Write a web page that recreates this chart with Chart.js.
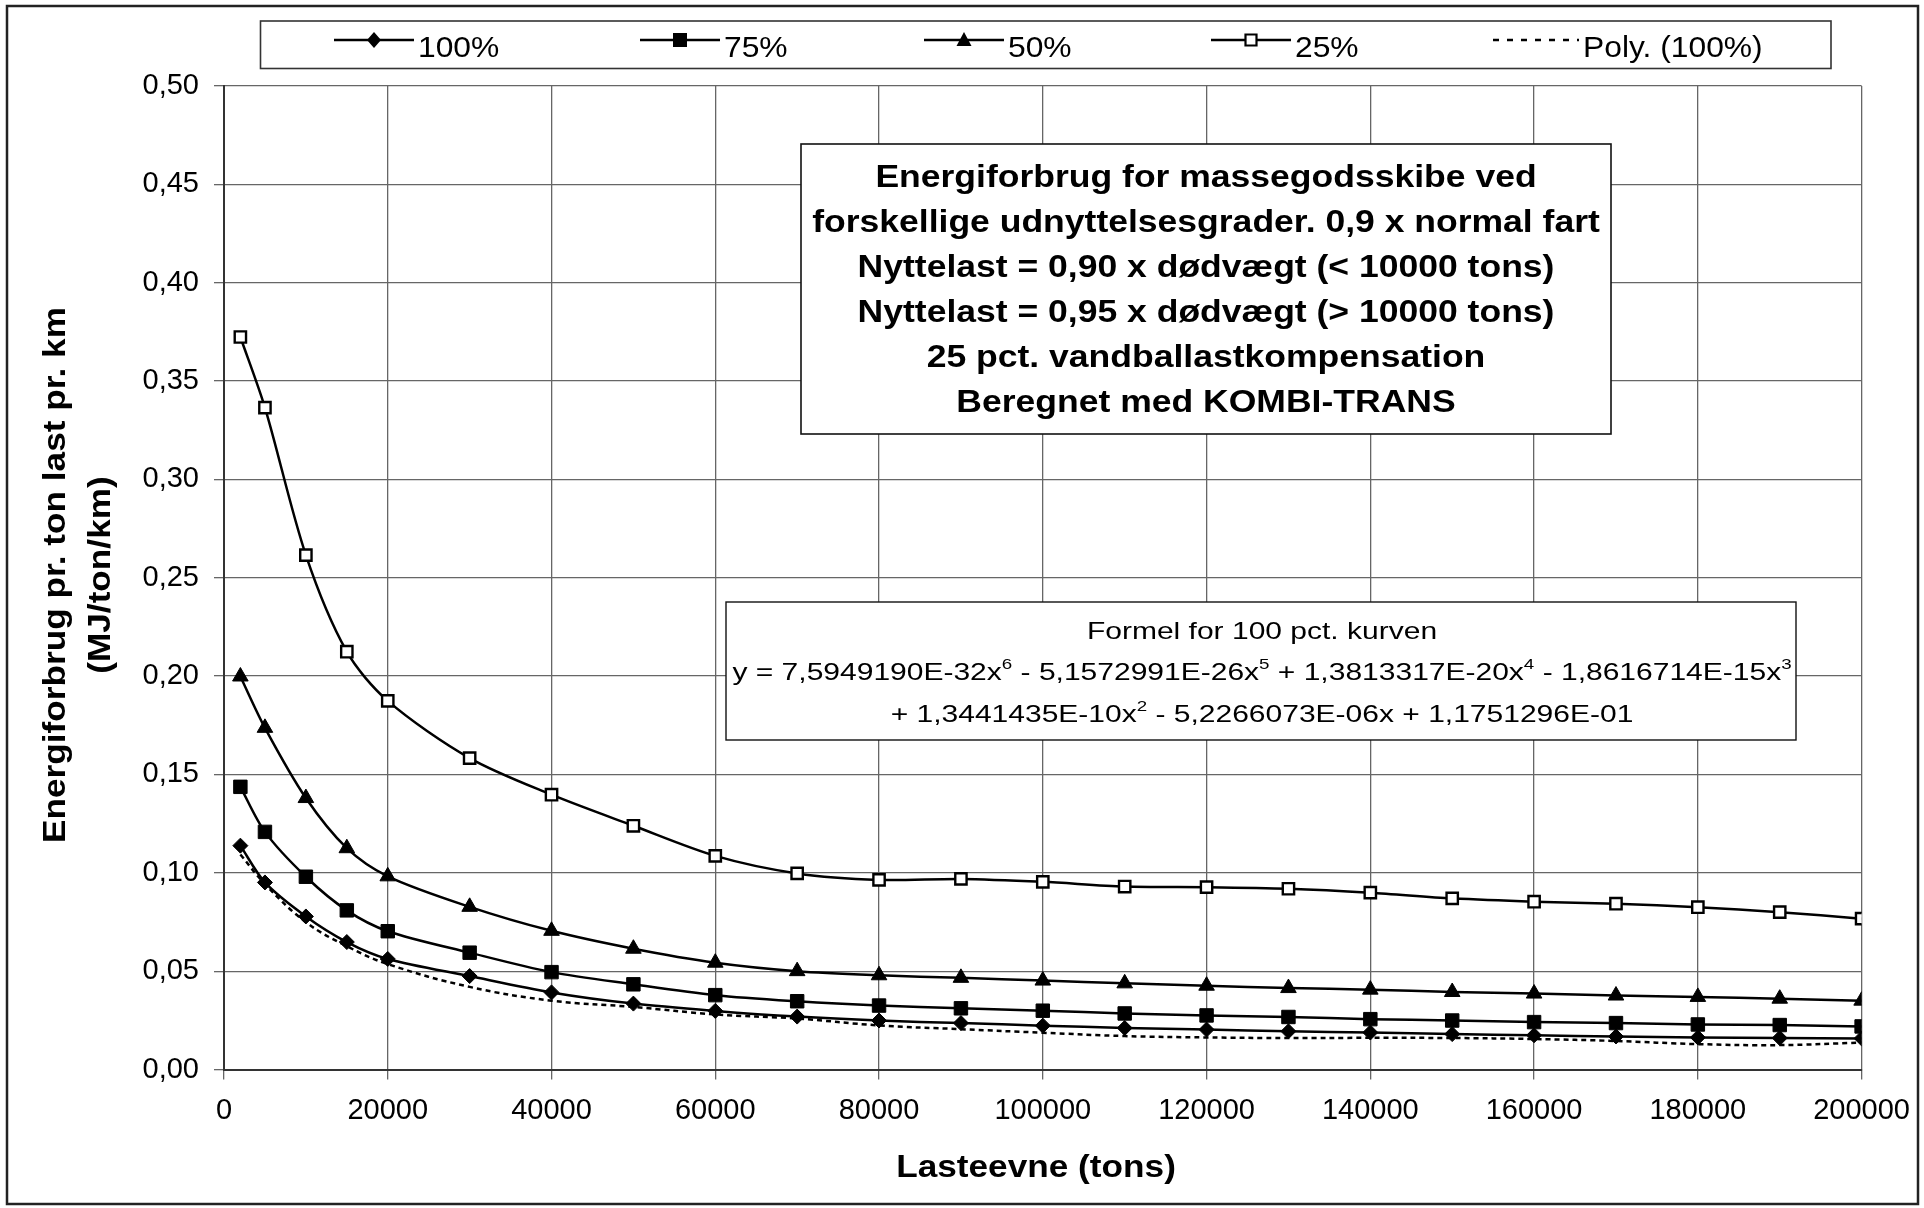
<!DOCTYPE html>
<html>
<head>
<meta charset="utf-8">
<title>Energiforbrug for massegodsskibe</title>
<script src="https://cdn.jsdelivr.net/npm/chart.js@4.4.1/dist/chart.umd.min.js"></script>
<style>
  html, body { margin: 0; padding: 0; background: #fff; overflow: hidden; }
  #chart { display: block; }
</style>
</head>
<body>
<canvas id="chart" width="1924" height="1208"></canvas>
<script>
// Lasteevne (tons)
const xValues = [2000, 5000, 10000, 15000, 20000, 30000, 40000, 50000, 60000, 70000, 80000, 90000,
                 100000, 110000, 120000, 130000, 140000, 150000, 160000, 170000, 180000, 190000, 200000];

// MJ/ton/km for each udnyttelsesgrad
const eff100 = [0.1138, 0.0951, 0.0778, 0.0648, 0.0562, 0.0475, 0.0392, 0.0335, 0.0298, 0.0269, 0.0249, 0.0236,
                0.0223, 0.0211, 0.0203, 0.0194, 0.0188, 0.0180, 0.0174, 0.0168, 0.0163, 0.0160, 0.0158];
const eff75  = [0.1437, 0.1208, 0.0980, 0.0809, 0.0703, 0.0594, 0.0495, 0.0433, 0.0378, 0.0347, 0.0325, 0.0311,
                0.0299, 0.0285, 0.0275, 0.0267, 0.0256, 0.0249, 0.0241, 0.0236, 0.0229, 0.0226, 0.0219];
const eff50  = [0.1998, 0.1737, 0.1380, 0.1125, 0.0982, 0.0827, 0.0705, 0.0614, 0.0543, 0.0500, 0.0479, 0.0466,
                0.0452, 0.0438, 0.0426, 0.0414, 0.0406, 0.0394, 0.0386, 0.0376, 0.0369, 0.0360, 0.0350];
const eff25  = [0.3724, 0.3365, 0.2615, 0.2124, 0.1874, 0.1583, 0.1397, 0.1239, 0.1086, 0.0997, 0.0964, 0.0969,
                0.0954, 0.0930, 0.0927, 0.0919, 0.0899, 0.0870, 0.0853, 0.0843, 0.0825, 0.0800, 0.0767];
// dotted trendline
const poly100 = [0.1093, 0.0943, 0.0749, 0.0627, 0.0536, 0.0420, 0.0350, 0.0318, 0.0280, 0.0259, 0.0224, 0.0205,
                 0.0187, 0.0170, 0.0163, 0.0160, 0.0161, 0.0160, 0.0155, 0.0145, 0.0129, 0.0124, 0.0137];

const seriesLabels = ['100%', '75%', '50%', '25%', 'Poly. (100%)'];
const xTickStep = 20000;
const yTickStep = 0.05;

const FONT = '"Liberation Sans", Arial, sans-serif';

const titleLines = [
    'Energiforbrug for massegodsskibe ved',
    'forskellige udnyttelsesgrader. 0,9 x normal fart',
    'Nyttelast = 0,90 x dødvægt (< 10000 tons)',
    'Nyttelast = 0,95 x dødvægt (> 10000 tons)',
    '25 pct. vandballastkompensation',
    'Beregnet med KOMBI-TRANS'
];

// [text, superscript?]
const formulaLines = [
    [['Formel for 100 pct. kurven', false]],
    [['y = 7,5949190E-32x', false], ['6', true], [' - 5,1572991E-26x', false], ['5', true],
     [' + 1,3813317E-20x', false], ['4', true], [' - 1,8616714E-15x', false], ['3', true]],
    [['+ 1,3441435E-10x', false], ['2', true], [' - 5,2266073E-06x + 1,1751296E-01', false]]
];

function toPoints(values) {
    return xValues.map((x, i) => ({ x: x, y: values[i] }));
}

/**
 * Draw text squeezed or widened horizontally
 */
function drawText(ctx, text, x, y, font, sx, align) {
    ctx.save();
    ctx.font = font;
    ctx.textAlign = align || 'center';
    ctx.textBaseline = 'alphabetic';
    ctx.translate(x, y);
    ctx.scale(sx, 1);
    ctx.fillText(text, 0, 0);
    ctx.restore();
}

function drawRich(ctx, parts, cx, y, size, sx) {
    const base = size + 'px ' + FONT;
    const sup = Math.round(size * 0.62) + 'px ' + FONT;
    ctx.save();
    ctx.textAlign = 'left';
    ctx.textBaseline = 'alphabetic';
    let w = 0;
    parts.forEach(p => { ctx.font = p[1] ? sup : base; w += ctx.measureText(p[0]).width; });
    ctx.translate(cx - w * sx / 2, y);
    ctx.scale(sx, 1);
    let x = 0;
    parts.forEach(p => {
        ctx.font = p[1] ? sup : base;
        ctx.fillText(p[0], x, p[1] ? -size * 0.45 : 0);
        x += ctx.measureText(p[0]).width;
    });
    ctx.restore();
}

function drawMarker(ctx, style, x, y) {
    ctx.save();
    ctx.fillStyle = '#000';
    ctx.strokeStyle = '#000';
    ctx.beginPath();
    if (style === 'diamond') {
        ctx.moveTo(x, y - 8); ctx.lineTo(x + 7, y); ctx.lineTo(x, y + 8); ctx.lineTo(x - 7, y);
        ctx.closePath(); ctx.fill();
    } else if (style === 'square') {
        ctx.rect(x - 7, y - 7, 14, 14); ctx.fill();
    } else if (style === 'triangle') {
        ctx.moveTo(x, y - 8); ctx.lineTo(x + 7.5, y + 6); ctx.lineTo(x - 7.5, y + 6);
        ctx.closePath(); ctx.fill();
    } else if (style === 'open') {
        ctx.fillStyle = '#fff';
        ctx.lineWidth = 2.2;
        ctx.rect(x - 5.5, y - 5.5, 11, 11); ctx.fill(); ctx.stroke();
    }
    ctx.restore();
}

const decorPlugin = {
    id: 'decor',
    beforeDraw(chart) {
        const ctx = chart.ctx;
        ctx.save();
        ctx.fillStyle = '#fff';
        ctx.fillRect(0, 0, chart.width, chart.height);
        ctx.restore();
    },
    afterDraw(chart) {
        const ctx = chart.ctx;
        ctx.save();
        ctx.fillStyle = '#000';

        // outer frame
        ctx.strokeStyle = '#222';
        ctx.lineWidth = 2.5;
        ctx.strokeRect(7, 6, 1911, 1198);

        // legend
        ctx.fillStyle = '#fff';
        ctx.fillRect(260.5, 21, 1570.5, 47.5);
        ctx.strokeStyle = '#333';
        ctx.lineWidth = 1.6;
        ctx.strokeRect(260.5, 21, 1570.5, 47.5);
        const legendX = [334, 640, 924, 1211, 1493];
        const markers = ['diamond', 'square', 'triangle', 'open', null];
        seriesLabels.forEach((label, i) => {
            const x0 = legendX[i];
            const len = i === 4 ? 86 : 80;
            ctx.save();
            ctx.strokeStyle = '#000';
            ctx.lineWidth = 2.5;
            if (i === 4) ctx.setLineDash([6, 8]);
            ctx.beginPath();
            ctx.moveTo(x0, 40);
            ctx.lineTo(x0 + len, 40);
            ctx.stroke();
            ctx.restore();
            if (markers[i]) drawMarker(ctx, markers[i], x0 + len / 2, 40);
            ctx.fillStyle = '#000';
            drawText(ctx, label, x0 + len + 4, 57, '30px ' + FONT, 1.06, 'left');
        });

        // title box
        ctx.fillStyle = '#fff';
        ctx.fillRect(801, 144, 810, 290);
        ctx.strokeStyle = '#111';
        ctx.lineWidth = 1.6;
        ctx.strokeRect(801, 144, 810, 290);
        ctx.fillStyle = '#000';
        titleLines.forEach((line, i) => {
            drawText(ctx, line, 1206, 186.5 + i * 45, 'bold 32px ' + FONT, 1.11, 'center');
        });

        // formula box
        ctx.fillStyle = '#fff';
        ctx.fillRect(726, 602, 1070, 138);
        ctx.strokeStyle = '#111';
        ctx.lineWidth = 1.4;
        ctx.strokeRect(726, 602, 1070, 138);
        ctx.fillStyle = '#000';
        formulaLines.forEach((parts, i) => {
            drawRich(ctx, parts, 1262, 638.5 + i * 41.5, 24, 1.25);
        });

        // axis titles
        drawText(ctx, 'Lasteevne (tons)', 1036, 1177, 'bold 32px ' + FONT, 1.1, 'center');
        ['Energiforbrug pr. ton last pr. km', '(MJ/ton/km)'].forEach((line, i) => {
            ctx.save();
            ctx.translate(64.5 + i * 45, 575);
            ctx.rotate(-Math.PI / 2);
            drawText(ctx, line, 0, 0, 'bold 32px ' + FONT, 1.1, 'center');
            ctx.restore();
        });
        ctx.restore();
    }
};

const lineDefaults = {
    borderColor: '#000',
    backgroundColor: '#000',
    pointBackgroundColor: '#000',
    pointBorderColor: '#000',
    borderWidth: 2.5,
    pointBorderWidth: 1,
    tension: 0.3,
    fill: false
};

new Chart(document.getElementById('chart'), {
    type: 'line',
    data: {
        datasets: [
            Object.assign({}, lineDefaults, { label: seriesLabels[0], data: toPoints(eff100), pointStyle: 'rectRot', pointRadius: 7.5 }),
            Object.assign({}, lineDefaults, { label: seriesLabels[1], data: toPoints(eff75), pointStyle: 'rect', pointRadius: 9.5 }),
            Object.assign({}, lineDefaults, { label: seriesLabels[2], data: toPoints(eff50), pointStyle: 'triangle', pointRadius: 9 }),
            Object.assign({}, lineDefaults, { label: seriesLabels[3], data: toPoints(eff25), pointStyle: 'rect', pointRadius: 8,
                pointBackgroundColor: '#fff', pointBorderWidth: 2.4 }),
            Object.assign({}, lineDefaults, { label: seriesLabels[4], data: toPoints(poly100), pointRadius: 0,
                borderDash: [5, 4], borderWidth: 2.5, tension: 0.4 })
        ]
    },
    options: {
        responsive: false,
        animation: false,
        devicePixelRatio: 1,
        layout: { padding: { top: 86, right: 62, left: 0, bottom: 0 } },
        plugins: {
            legend: { display: false },
            tooltip: { enabled: false }
        },
        scales: {
            x: {
                type: 'linear',
                min: 0,
                max: 200000,
                ticks: {
                    stepSize: xTickStep,
                    autoSkip: false,
                    maxRotation: 0,
                    padding: 14,
                    color: '#000',
                    font: { family: FONT, size: 29 },
                    callback: v => String(v)
                },
                grid: { color: '#666', lineWidth: 1.3, tickLength: 10 },
                border: { color: '#333', width: 2 },
                afterFit: scale => { scale.height = 138.5; }
            },
            y: {
                min: 0,
                max: 0.5,
                ticks: {
                    stepSize: yTickStep,
                    padding: 15,
                    color: '#000',
                    font: { family: FONT, size: 29 },
                    callback: v => v.toFixed(2).replace('.', ',')
                },
                grid: { color: '#666', lineWidth: 1.3, tickLength: 10 },
                border: { color: '#333', width: 2 },
                afterFit: scale => { scale.width = 224; }
            }
        }
    },
    plugins: [decorPlugin]
});
</script>
</body>
</html>
